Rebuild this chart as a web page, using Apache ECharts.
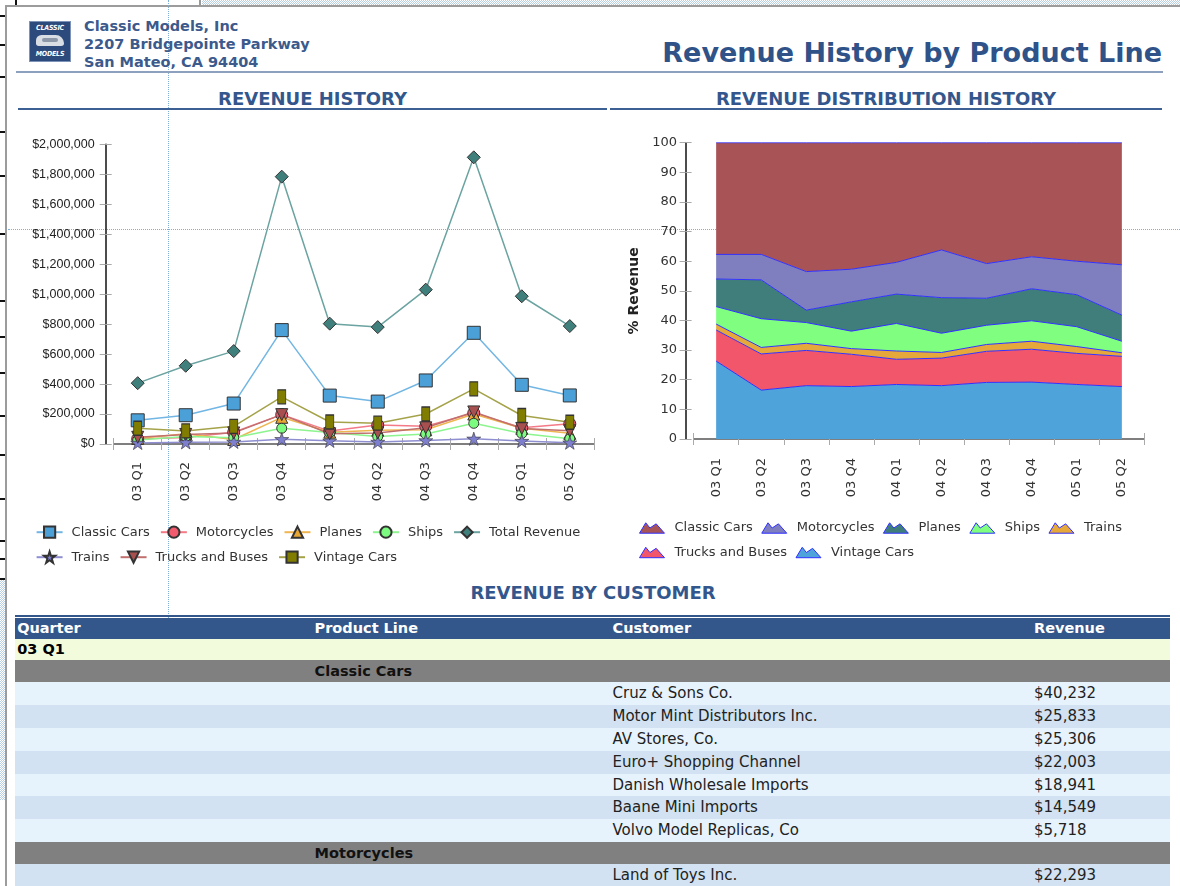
<!DOCTYPE html>
<html>
<head>
<meta charset="utf-8">
<title>Revenue History by Product Line</title>
<script src="https://cdn.jsdelivr.net/npm/echarts@6/dist/echarts.min.js"></script>
<style>
  html, body { margin: 0; padding: 0; background: #fff; width: 1180px; height: 886px; overflow: hidden; font-family: "DejaVu Sans", sans-serif; }
  .abs { position: absolute; white-space: nowrap; }
  .dots { background-image: repeating-conic-gradient(#b8cfe3 0 25%, #fff 0 50%); background-size: 2px 2px; }
  .addr { left: 84px; font-weight: bold; font-size: 14.5px; color: #3c5a8c; line-height: 18px; }
  .section { font-weight: bold; font-size: 18px; color: #33578d; line-height: 22px; text-align: center; }
  .rule { height: 2px; background: #3d6094; }
  .cell { position: absolute; white-space: nowrap; }
  #logo { left: 29px; top: 21px; width: 40px; height: 39px; background: #2c4a7c; border: 1px solid #7d93b8; overflow: hidden; }
  #logo span { position: absolute; left: 0; width: 40px; text-align: center; color: #fff; font: italic bold 7px "DejaVu Sans Condensed", "DejaVu Sans", sans-serif; letter-spacing: -0.2px; }
</style>
</head>
<body>

<!-- window frame bits around the report page -->
<div class="abs dots" style="left:202px;top:0;width:978px;height:5px;"></div>
<div class="abs" style="left:15px;top:0;width:2px;height:5px;background:#111;"></div>
<div class="abs" style="left:199px;top:0;width:2px;height:5px;background:#999;"></div>
<div class="abs" style="left:5px;top:5px;width:1175px;height:2px;background:#9c9c9c;"></div>
<div class="abs" style="left:5px;top:5px;width:2px;height:881px;background:#9c9c9c;"></div>
<div class="abs dots" style="left:0;top:580px;width:5px;height:220px;"></div>
<div id="marks"></div>

<!-- designer guide lines -->
<div class="abs" style="left:168px;top:0;height:800px;border-left:1px dotted #7fb0d8;"></div>
<div class="abs" style="left:8px;top:229px;width:1172px;border-top:1px dotted #7fb0d8;"></div>

<!-- header -->
<div id="logo" class="abs">
  <span style="top:2px;">CLASSIC</span>
  <div class="abs" style="left:6px;top:13px;width:28px;height:11px;background:#d9dde4;border-radius:6px 9px 3px 3px;"></div>
  <div class="abs" style="left:12px;top:16px;width:16px;height:4px;background:#8c97a8;border-radius:2px;"></div>
  <span style="top:28px;">MODELS</span>
</div>
<div class="abs addr" style="top:17px;">Classic Models, Inc</div>
<div class="abs addr" style="top:35px;">2207 Bridgepointe Parkway</div>
<div class="abs addr" style="top:53px;">San Mateo, CA 94404</div>
<div class="abs" style="right:18px;top:37px;font-weight:bold;font-size:27px;line-height:32px;color:#2f5288;">Revenue History by Product Line</div>
<div class="abs" style="left:16px;top:71px;width:1147px;height:2px;background:#8da0be;"></div>

<div class="abs section" style="left:18px;width:589px;top:88px;">REVENUE HISTORY</div>
<div class="abs rule" style="left:18px;top:108px;width:589px;"></div>
<div class="abs section" style="left:610px;width:552px;top:88px;">REVENUE DISTRIBUTION HISTORY</div>
<div class="abs rule" style="left:610px;top:108px;width:552px;"></div>

<div id="left" class="abs" style="left:0;top:110px;width:610px;height:465px;"></div>
<div id="right" class="abs" style="left:610px;top:110px;width:570px;height:465px;"></div>

<div class="abs section" style="left:15px;width:1156px;top:582px;">REVENUE BY CUSTOMER</div>
<div id="table"></div>

<script>
// ---- data ----
const quarters = ['03 Q1', '03 Q2', '03 Q3', '03 Q4', '04 Q1', '04 Q2', '04 Q3', '04 Q4', '05 Q1', '05 Q2'];

// revenue in dollars (left chart)
const classicCars   = [158000, 192000, 270000, 760000, 323000, 283000, 424000, 742000, 395000, 324000];
const motorcycles   = [34000, 44000, 79000, 196000, 86000, 127000, 118000, 207000, 109000, 135000];
const planes        = [37000, 69000, 30000, 178000, 79000, 92000, 95000, 200000, 105000, 71000];
const ships         = [26000, 50000, 42000, 105000, 76000, 50000, 67000, 138000, 70000, 35000];
const totalRevenue  = [406000, 522000, 620000, 1784000, 803000, 780000, 1030000, 1913000, 986000, 787000];
const trains        = [7000, 11000, 14000, 32000, 21000, 14000, 24000, 35000, 20000, 9000];
const trucksBuses   = [45000, 64000, 74000, 196000, 68000, 74000, 108000, 214000, 104000, 88000];
const vintageCars   = [105000, 87000, 118000, 315000, 147000, 139000, 200000, 368000, 190000, 145000];

// share of revenue in percent (right chart)
const pctClassicCars = [37.7, 37.7, 43.5, 42.7, 40.4, 36.2, 40.8, 38.5, 40.0, 41.2];
const pctMotorcycles = [8.3, 8.6, 13.0, 11.0, 10.7, 16.1, 11.7, 10.8, 11.3, 17.0];
const pctPlanes      = [9.3, 13.1, 4.2, 9.9, 9.9, 12.0, 9.1, 10.8, 10.8, 8.8];
const pctShips       = [5.9, 9.7, 7.0, 5.9, 9.3, 6.5, 6.5, 6.9, 6.7, 3.9];
const pctTrains      = [2.0, 2.2, 2.4, 1.9, 2.8, 1.9, 2.3, 2.7, 2.3, 1.2];
const pctTrucksBuses = [10.5, 12.2, 11.9, 10.9, 8.5, 9.3, 10.5, 11.1, 10.5, 10.2];
const pctVintageCars = [26.3, 16.5, 18.0, 17.7, 18.4, 18.0, 19.1, 19.2, 18.4, 17.7];

// table
const tableQuarter = '03 Q1';
const classicCustomers = ['Cruz & Sons Co.', 'Motor Mint Distributors Inc.', 'AV Stores, Co.', 'Euro+ Shopping Channel',
  'Danish Wholesale Imports', 'Baane Mini Imports', 'Volvo Model Replicas, Co'];
const classicRevenue = [40232, 25833, 25306, 22003, 18941, 14549, 5718];
const motorcycleCustomers = ['Land of Toys Inc.'];
const motorcycleRevenue = [22293];

// ---- styles ----
const STAR = 'path://M12,0L14.8,8.6L24,8.6L16.6,14L19.4,22.8L12,17.4L4.6,22.8L7.4,14L0,8.6L9.2,8.6Z';
const MOUNTAIN = 'path://M0,12L6,2L10,7L16,3L24,12Z';
const FONT = 'DejaVu Sans';

const leftStyles = {
  'Classic Cars':     { symbol: 'rect', size: 13, fill: '#4ba0d8', line: '#72b6e4' },
  'Motorcycles':      { symbol: 'circle', size: 12, fill: '#f25a6e', line: '#f47a88' },
  'Planes':           { symbol: 'triangle', size: 12, fill: '#e8a633', line: '#efb550' },
  'Ships':            { symbol: 'circle', size: 10, fill: '#7dfa80', line: '#8cf58e' },
  'Total Revenue':    { symbol: 'diamond', size: 13, fill: '#3f7f7c', line: '#6aa3a0' },
  'Trains':           { symbol: STAR, size: 14, fill: '#7f7fd0', line: '#8e8ed0', border: 0.6 },
  'Trucks and Buses': { symbol: 'triangle', size: 12, fill: '#a8504f', line: '#c0706e', rotate: 180 },
  'Vintage Cars':     { symbol: 'rect', size: [8, 14], fill: '#807d00', line: '#a5a34a' }
};
const leftData = {
  'Classic Cars': classicCars, 'Motorcycles': motorcycles, 'Planes': planes, 'Ships': ships,
  'Total Revenue': totalRevenue, 'Trains': trains, 'Trucks and Buses': trucksBuses, 'Vintage Cars': vintageCars
};

const areaColors = {
  'Vintage Cars': '#4ea3da', 'Trucks and Buses': '#f2566a', 'Trains': '#e6a83a', 'Ships': '#80fe80',
  'Planes': '#407e7c', 'Motorcycles': '#7f7fc0', 'Classic Cars': '#a85456'
};
const areaData = {
  'Vintage Cars': pctVintageCars, 'Trucks and Buses': pctTrucksBuses, 'Trains': pctTrains, 'Ships': pctShips,
  'Planes': pctPlanes, 'Motorcycles': pctMotorcycles, 'Classic Cars': pctClassicCars
};
const areaLegendOrder = ['Classic Cars', 'Motorcycles', 'Planes', 'Ships', 'Trains', 'Trucks and Buses', 'Vintage Cars'];

function catAxes(grid, labelMargin) {
  return [
    {
      gridIndex: grid, type: 'category', data: quarters, offset: 8,
      axisLine: { show: true, lineStyle: { color: '#555', width: 1.5 } },
      axisTick: { show: true, length: 6, lineStyle: { color: '#aaa' } },
      axisLabel: { rotate: 90, margin: labelMargin, fontFamily: FONT, fontSize: 13, color: '#333' },
      splitLine: { show: false }
    },
    {
      gridIndex: grid, type: 'category', data: quarters, offset: 8, position: 'bottom',
      axisLine: { show: false }, axisLabel: { show: false }, splitLine: { show: false },
      axisTick: { show: true, inside: true, length: 6, lineStyle: { color: '#aaa' } }
    }
  ];
}
function valAxes(max, interval, label) {
  return [
    Object.assign({
      type: 'value', min: 0, max: max, interval: interval, offset: 8,
      axisLine: { show: true, lineStyle: { color: '#111', width: 1.5 } },
      axisTick: { show: true, length: 6, lineStyle: { color: '#aaa' } },
      splitLine: { show: false }
    }, label),
    {
      type: 'value', min: 0, max: max, interval: interval, offset: 8, position: 'left',
      axisLine: { show: false }, axisLabel: { show: false }, splitLine: { show: false },
      axisTick: { show: true, inside: true, length: 6, lineStyle: { color: '#aaa' } }
    }
  ];
}

// ---- left: revenue history ----
const leftChart = echarts.init(document.getElementById('left'));
leftChart.setOption({
  animation: false,
  grid: { left: 113.7, top: 34.3, width: 480.1, height: 299.7, outerBoundsMode: 'none' },
  xAxis: catAxes(0, 10),
  yAxis: valAxes(2000000, 200000, {
    axisLabel: {
      margin: 11, fontFamily: 'Liberation Sans', fontSize: 12.5, color: '#222',
      formatter: v => '$' + v.toLocaleString('en-US')
    }
  }),
  legend: {
    left: 35.6, top: 414.7, width: 560, padding: 0, itemWidth: 26, itemHeight: 14, itemGap: 10,
    textStyle: { fontFamily: FONT, fontSize: 13, lineHeight: 15, color: '#333', padding: [0, 0, 0, 4] },
    data: Object.keys(leftData)
  },
  series: Object.keys(leftData).map(name => {
    const s = leftStyles[name];
    return {
      name: name, type: 'line', data: leftData[name],
      symbol: s.symbol, symbolSize: s.size, symbolRotate: s.rotate || 0, symbolKeepAspect: true,
      showSymbol: true,
      lineStyle: { color: s.line, width: 1.5 },
      itemStyle: { color: s.fill, borderColor: '#333', borderWidth: s.border || 1 }
    };
  })
});

// ---- right: revenue distribution history ----
const rightChart = echarts.init(document.getElementById('right'));
rightChart.setOption({
  animation: false,
  grid: { left: 83.6, top: 32.7, width: 450.8, height: 296.3, outerBoundsMode: 'none' },
  xAxis: catAxes(0, 11),
  yAxis: valAxes(100, 10, {
    name: '% Revenue', nameLocation: 'middle', nameRotate: 90, nameGap: 43,
    nameTextStyle: { fontFamily: FONT, fontSize: 14, fontWeight: 'bold', color: '#222' },
    axisLabel: { margin: 8.6, fontFamily: FONT, fontSize: 13, color: '#333' }
  }),
  legend: {
    left: 29, top: 410, width: 510, padding: 0, itemWidth: 25, itemHeight: 13, itemGap: 8.5,
    textStyle: { fontFamily: FONT, fontSize: 13, lineHeight: 16, color: '#333', padding: [0, 0, 0, 5] },
    data: areaLegendOrder.map(name => ({
      name: name, icon: MOUNTAIN,
      itemStyle: { color: areaColors[name], borderColor: '#3030ff', borderWidth: 1 }
    }))
  },
  series: Object.keys(areaData).map(name => ({
    name: name, type: 'line', stack: 'share', data: areaData[name],
    symbol: 'none', smooth: false,
    lineStyle: { color: '#3030ff', width: 1 },
    itemStyle: { color: areaColors[name] },
    areaStyle: { color: areaColors[name], opacity: 1 }
  }))
});

// ---- revenue by customer table ----
const table = document.getElementById('table');
function cell(left, top, width, height, bg, html, css) {
  const d = document.createElement('div');
  d.className = 'cell';
  d.style.cssText = `left:${left}px;top:${top}px;width:${width}px;height:${height}px;line-height:${height}px;background:${bg};${css || ''}`;
  d.innerHTML = html || '';
  table.appendChild(d);
  return d;
}
const TL = 15.3, TW = 1155.2;
const colX = [17.2, 314.6, 612.5, 1034];
function text(x, top, height, str, css) {
  cell(x, top, 300, height, 'transparent', str, css);
}
cell(TL, 615.3, TW, 1.6, '#34578b');
let y = 618.3;
cell(TL, y, TW, 20.8, '#34578b');
['Quarter', 'Product Line', 'Customer', 'Revenue'].forEach((h, i) =>
  text(colX[i], y, 20.8, h, 'color:#fff;font-weight:bold;font-size:14.5px;'));
y += 20.8;
cell(TL, y, TW, 20.7, '#f3fbdd');
text(colX[0], y, 20.7, tableQuarter, 'color:#000;font-weight:bold;font-size:14.5px;');
y += 20.9;
let stripe = 0;
[['Classic Cars', classicCustomers, classicRevenue], ['Motorcycles', motorcycleCustomers, motorcycleRevenue]].forEach(g => {
  cell(TL, y, TW, 22.4, '#808080');
  text(colX[1], y, 22.4, g[0], 'color:#111;font-weight:bold;font-size:14.5px;');
  y += 22.4;
  g[1].forEach((c, i) => {
    cell(TL, y, TW, 22.8, stripe % 2 ? '#d2e2f2' : '#e7f3fc');
    text(colX[2], y, 22.8, c.replace('&', '&amp;'), 'color:#222;font-size:15px;');
    text(colX[3], y, 22.8, '$' + g[2][i].toLocaleString('en-US'), 'color:#222;font-size:15px;');
    y += 22.8;
    stripe++;
  });
});

// little black marks of the neighbouring window at the far left
const marks = document.getElementById('marks');
[15, 44, 76, 131, 175, 233, 300, 336, 372, 415, 454, 498, 540, 558, 578].forEach(t => {
  const m = document.createElement('div');
  m.className = 'abs';
  m.style.cssText = `left:0;top:${t}px;width:5px;height:2px;background:#111;`;
  marks.appendChild(m);
});
</script>
</body>
</html>
